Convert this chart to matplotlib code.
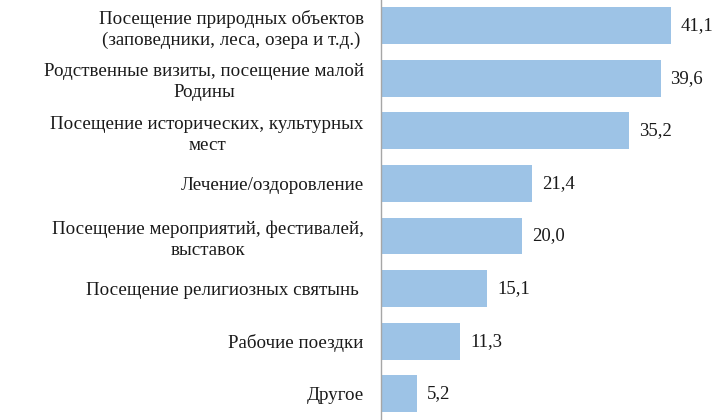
import matplotlib.pyplot as plt
import numpy as np

categories = [
    "Посещение природных объектов\n(заповедники, леса, озера и т.д.)",
    "Родственные визиты, посещение малой\nРодины",
    "Посещение исторических, культурных\nмест",
    "Лечение/оздоровление",
    "Посещение мероприятий, фестивалей,\nвыставок",
    "Посещение религиозных святынь ",
    "Рабочие поездки",
    "Другое",
]
values = [41.1, 39.6, 35.2, 21.4, 20.0, 15.1, 11.3, 5.2]

plt.rcParams['font.family'] = ['Liberation Serif', 'DejaVu Serif']

fig = plt.figure(figsize=(7.2, 4.2), dpi=100)
ax = fig.add_axes([0.5285, 0.0, 0.4715, 1.0])

y_pos = np.arange(len(categories))
ax.barh(y_pos, values, height=0.70, color='#9dc3e6')

for y, v in zip(y_pos, values):
    ax.text(v + 1.4, y, f"{v:.1f}".replace('.', ','), va='center', ha='left',
            fontsize=13.5, color='#1a1a1a')

ax.set_yticks(y_pos)
ax.set_yticklabels(categories, fontsize=13.7, color='#1a1a1a',
                   multialignment='center', linespacing=1.28)
ax.tick_params(axis='y', length=0, pad=12)
ax.set_xticks([])
ax.set_xlim(0, 48)
ax.set_ylim(7.5, -0.49)

for s in ['top', 'right', 'bottom']:
    ax.spines[s].set_visible(False)
ax.spines['left'].set_color('#a6a6a6')
ax.spines['left'].set_linewidth(1.0)

fig.savefig('out.png', dpi=100)
